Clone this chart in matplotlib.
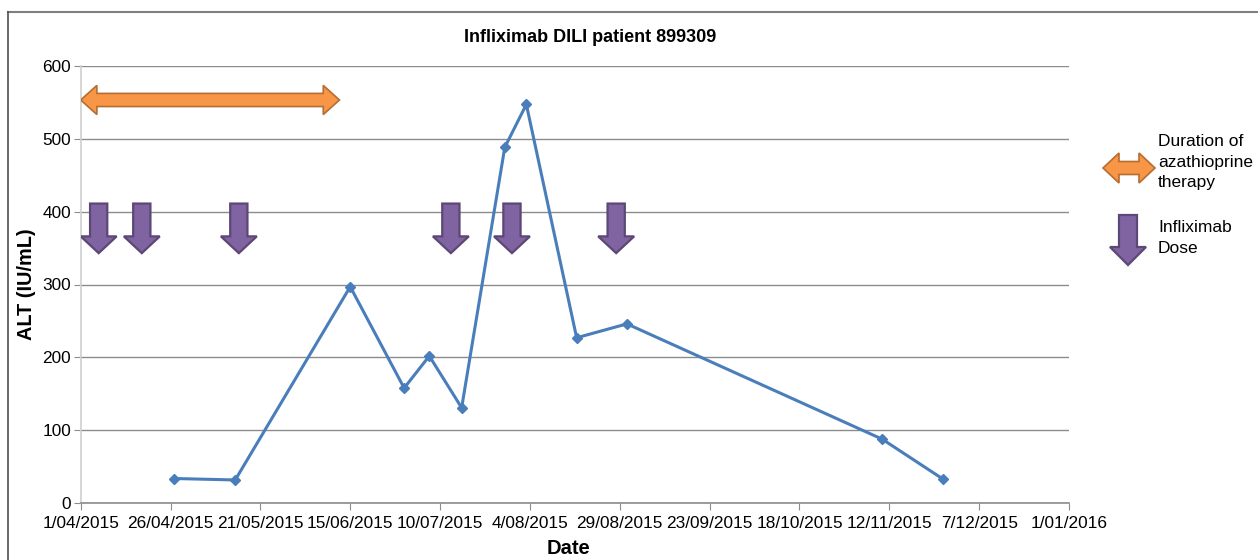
import datetime as dt
import numpy as np
import matplotlib.pyplot as plt
import matplotlib.dates as mdates
from matplotlib.patches import Polygon
from matplotlib.lines import Line2D

plt.rcParams['font.family'] = ['Liberation Sans', 'DejaVu Sans']

# ALT measurements
alt_dates = ['2015-04-27', '2015-05-14', '2015-06-15', '2015-06-30', '2015-07-07',
             '2015-07-16', '2015-07-28', '2015-08-03', '2015-08-17', '2015-08-31',
             '2015-11-10', '2015-11-27']
alt_values = [34, 32, 297, 158, 202, 131, 488, 547, 227, 246, 88, 33]

# infliximab doses and azathioprine period
dose_dates = ['2015-04-06', '2015-04-18', '2015-05-15', '2015-07-13', '2015-07-30', '2015-08-28']
aza_start = '2015-04-01'
aza_end = '2015-06-12'

x_start = dt.date(2015, 4, 1)
x_end = dt.date(2016, 1, 1)
tick_dates = [x_start + dt.timedelta(days=25 * i) for i in range(12)]

orange = '#F79646'
orange_edge = '#B66D31'
purple = '#8064A2'
purple_edge = '#5C4776'


def to_num(s):
    return mdates.date2num(dt.date.fromisoformat(s))


def down_arrow(cx, top, tip, shaft_hw, head_hw, head_base):
    return [(cx - shaft_hw, top), (cx + shaft_hw, top), (cx + shaft_hw, head_base),
            (cx + head_hw, head_base), (cx, tip), (cx - head_hw, head_base),
            (cx - shaft_hw, head_base)]


def double_arrow(x0, x1, cy, shaft_hh, head_hh, head_len):
    return [(x0, cy), (x0 + head_len, cy + head_hh), (x0 + head_len, cy + shaft_hh),
            (x1 - head_len, cy + shaft_hh), (x1 - head_len, cy + head_hh), (x1, cy),
            (x1 - head_len, cy - head_hh), (x1 - head_len, cy - shaft_hh),
            (x0 + head_len, cy - shaft_hh), (x0 + head_len, cy - head_hh)]


W, H = 1258, 560
fig = plt.figure(figsize=(W / 100, H / 100), dpi=100)
ax = fig.add_axes([80.7 / W, 1 - 503.3 / H, (1069 - 80.7) / W, (503.3 - 65.7) / H])

xs = [to_num(d) for d in alt_dates]
ax.plot(xs, alt_values, color='#4A7EBB', lw=2.2, marker='D', ms=5.5, zorder=3)

# azathioprine duration arrow
pts = double_arrow(to_num(aza_start), to_num(aza_end), 553, 9, 20, 4.5)
ax.add_patch(Polygon(pts, closed=True, fc=orange, ec=orange_edge, lw=1.2, zorder=4))

# dose arrows
for d in dose_dates:
    pts = down_arrow(to_num(d), 411, 343, 2.4, 5.0, 366)
    ax.add_patch(Polygon(pts, closed=True, fc=purple, ec=purple_edge, lw=1.6, zorder=4))

ax.set_xlim(mdates.date2num(x_start), mdates.date2num(x_end))
ax.set_ylim(0, 600)
ax.set_yticks(np.arange(0, 601, 100))
ax.set_xticks([mdates.date2num(d) for d in tick_dates])
ax.set_xticklabels([f'{d.day}/{d.month:02d}/{d.year}' for d in tick_dates])
ax.yaxis.grid(True, color='#8c8c8c', lw=1.0)
ax.set_axisbelow(True)

for side in ['top', 'right']:
    ax.spines[side].set_visible(False)
ax.spines['left'].set_color('#d0d0d0')
ax.spines['bottom'].set_color('#8c8c8c')
ax.spines['left'].set_linewidth(1.2)
ax.spines['bottom'].set_linewidth(1.2)
ax.tick_params(axis='x', direction='out', length=5, color='#8c8c8c', labelsize=12.4, pad=4)
ax.tick_params(axis='y', direction='out', length=5, color='#8c8c8c', labelsize=12.4, pad=2)

fig.text(569 / W, 1 - 549 / H, 'Date', fontsize=14.5, fontweight='bold',
         ha='center', va='center')
fig.text(27 / W, 1 - 284 / H, 'ALT (IU/mL)', rotation=90, fontsize=14.3,
         fontweight='bold', ha='center', va='center')
fig.text(590 / W, 1 - 38 / H, 'Infliximab DILI patient 899309', fontsize=13,
         fontweight='bold', ha='center', va='center')

# legend drawn by hand at the right
def fpt(x, y):
    return (x / W, 1 - y / H)

leg_orange = [fpt(x, y) for x, y in double_arrow(1103, 1155, 168, 6.5, 15, 16)]
fig.patches.append(Polygon(leg_orange, closed=True, fc=orange, ec=orange_edge, lw=1.2,
                           transform=fig.transFigure, figure=fig))
leg_purple = [fpt(x, y) for x, y in down_arrow(1128, 215, 265, 9, 18, 247)]
fig.patches.append(Polygon(leg_purple, closed=True, fc=purple, ec=purple_edge, lw=1.6,
                           transform=fig.transFigure, figure=fig))
fig.text(1158 / W, 1 - 162 / H, 'Duration of\nazathioprine\ntherapy', fontsize=12.5,
         ha='left', va='center', linespacing=1.45)
fig.text(1158 / W, 1 - 238 / H, 'Infliximab\nDose', fontsize=12.5,
         ha='left', va='center', linespacing=1.45)

# frame remains at top and left
fig.lines.append(Line2D([8 / W, 1], [1 - 12 / H, 1 - 12 / H], color='#7f7f7f', lw=1.5,
                        transform=fig.transFigure))
fig.lines.append(Line2D([8 / W, 8 / W], [0, 1 - 12 / H], color='#505050', lw=1.2,
                        transform=fig.transFigure))

fig.savefig('out.png', dpi=100)
